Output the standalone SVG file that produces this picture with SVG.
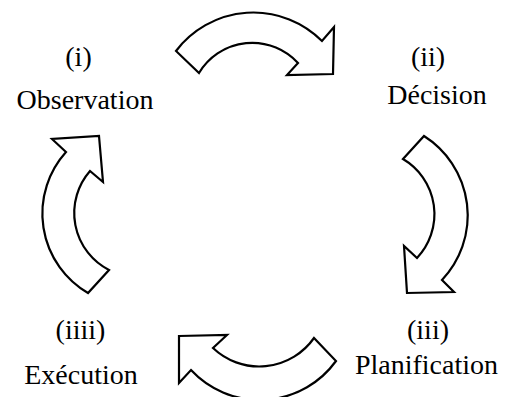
<svg xmlns="http://www.w3.org/2000/svg" width="505" height="397" viewBox="0 0 505 397">
  <style>
    .label { font-size: 28px; fill: #000; text-anchor: middle; }
    .arrow { fill: #fff; stroke: #000; stroke-width: 2.2; stroke-linejoin: miter; }
  </style>
  <rect width="505" height="397" fill="#fff"/>

  <!-- curved block arrows between the stages -->
  <g id="connectors">
    <path id="arrow-obs-dec" class="arrow" d="M176,51 A97,97 0 0 1 322,41 L334,27 L333,74 L287,75 L298,63 A62,62 0 0 0 199,73 Z"/>
    <path id="arrow-dec-plan" class="arrow" d="M424,136 A94,94 0 0 1 442,280 L454,292 L407,293 L404,246 L417,258 A64,64 0 0 0 403,159 Z"/>
    <path id="arrow-plan-exe" class="arrow" d="M179,336 L227,335 L213,348 A67,67 0 0 0 314,338 L336,361 A94,94 0 0 1 191,370 L179,383 Z"/>
    <path id="arrow-exe-obs" class="arrow" d="M99,136 L103,182 L90,171 A64,64 0 0 0 109,270 L88,293 A92,92 0 0 1 66,152 L52,139 Z"/>
  </g>

  <g font-family="'Liberation Serif', 'DejaVu Serif', serif">
    <g id="observation">
      <text class="label" x="78.5" y="66">(i)</text>
      <text class="label" x="85" y="108.5">Observation</text>
    </g>
    <g id="decision">
      <text class="label" x="428" y="66">(ii)</text>
      <text class="label" x="437" y="103.5">Décision</text>
    </g>
    <g id="planification">
      <text class="label" x="428" y="338.5">(iii)</text>
      <text class="label" x="426.5" y="373.5">Planification</text>
    </g>
    <g id="execution">
      <text class="label" x="80.5" y="339">(iiii)</text>
      <text class="label" x="81" y="384">Exécution</text>
    </g>
  </g>
</svg>
